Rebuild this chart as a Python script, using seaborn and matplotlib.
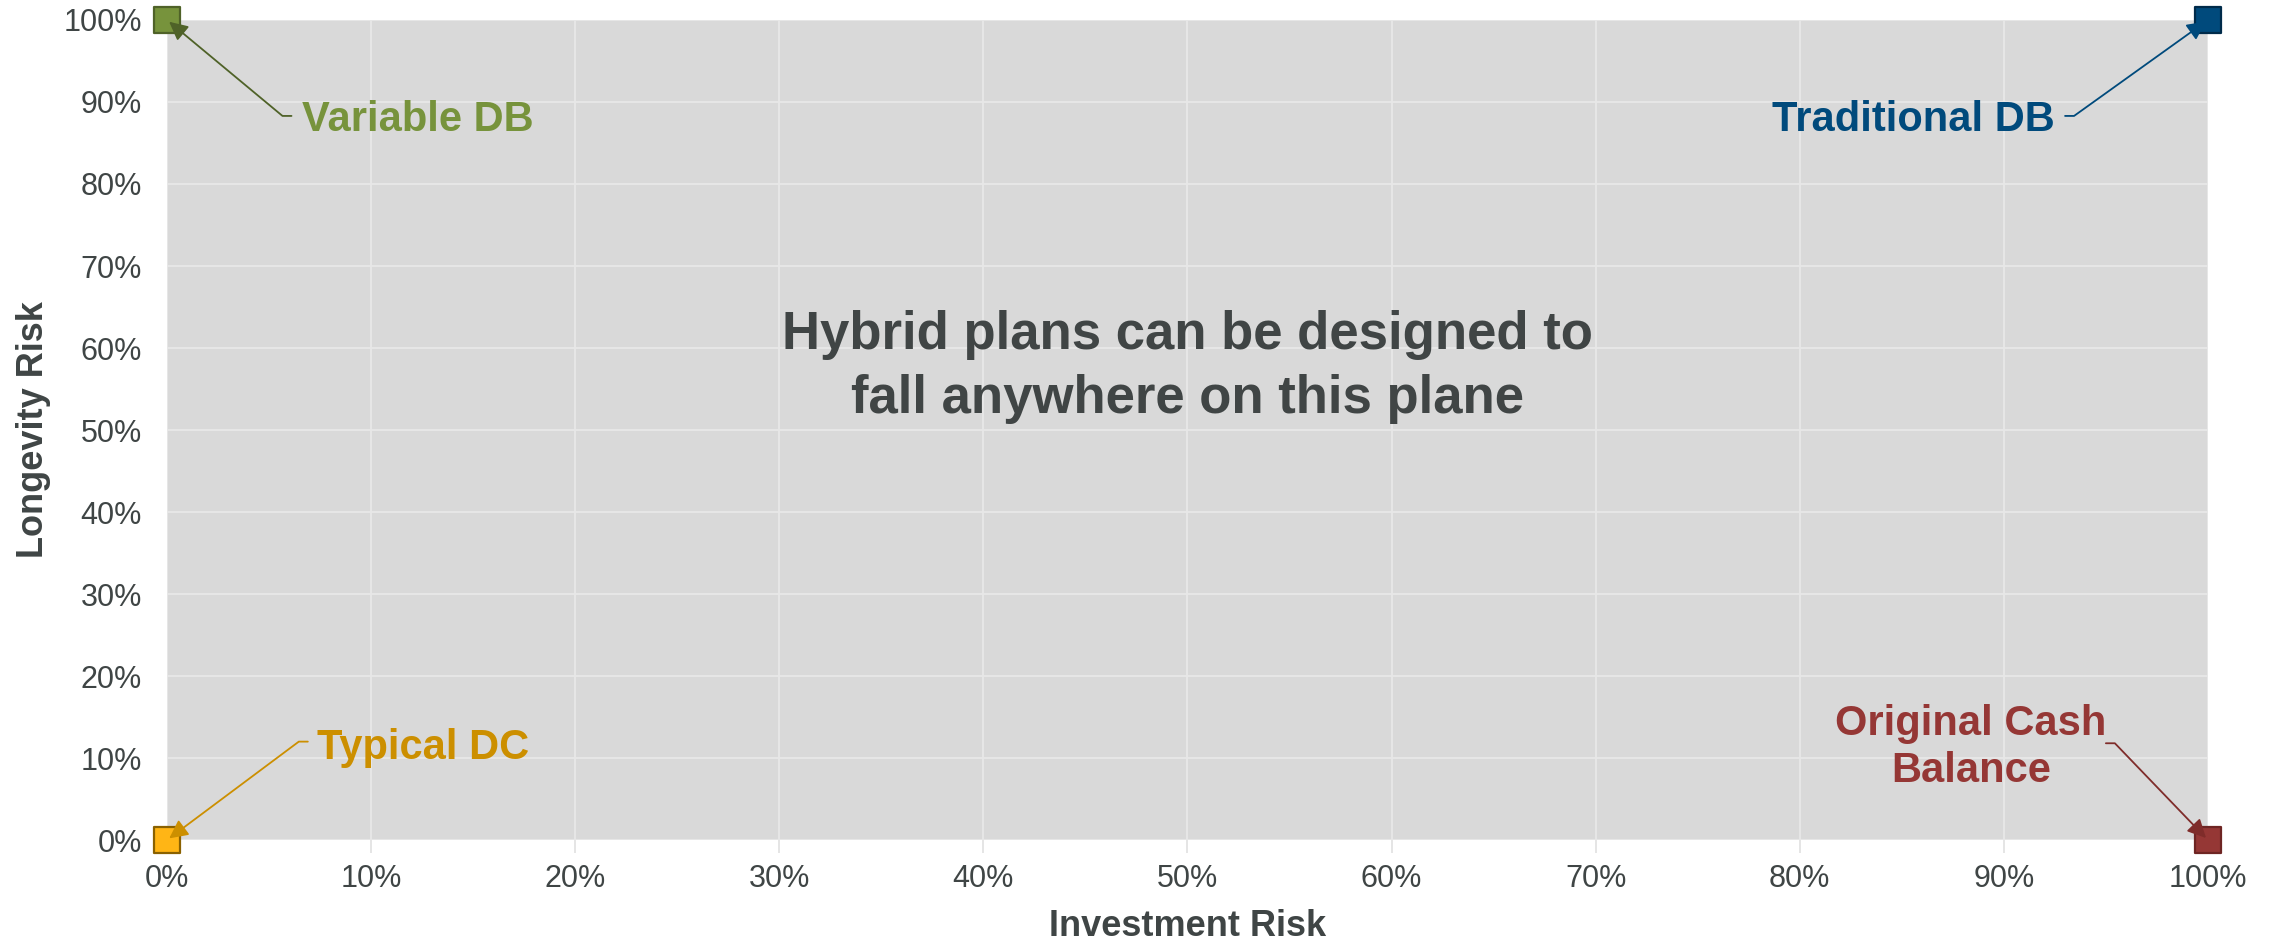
import matplotlib
matplotlib.use("Agg")
import matplotlib.pyplot as plt
from matplotlib.ticker import PercentFormatter, MultipleLocator
import seaborn as sns
import pandas as pd

# Plan types placed on the investment-risk / longevity-risk plane
plans = ["Variable DB", "Traditional DB", "Typical DC", "Original Cash Balance"]
investment_risk = [0.0, 1.0, 0.0, 1.0]
longevity_risk = [1.0, 1.0, 0.0, 0.0]
label_text = ["Variable DB", "Traditional DB", "Typical DC", "Original Cash\nBalance"]

fill_colors = ["#77933C", "#004A7C", "#FFB515", "#953735"]
edge_colors = ["#4F6228", "#002B4A", "#8A6100", "#6E2523"]
text_colors = ["#77933C", "#004A7C", "#CC8F00", "#953735"]
arrow_colors = ["#4F6228", "#004A7C", "#CC8F00", "#7F2C2A"]

# label anchor (data coords), alignment, connector start and its first arm direction
label_layout = {
    "Variable DB": dict(pos=(0.066, 0.878), ha="left", start=(0.061, 0.883), angle=180),
    "Traditional DB": dict(pos=(0.925, 0.878), ha="right", start=(0.930, 0.883), angle=0),
    "Typical DC": dict(pos=(0.0735, 0.112), ha="left", start=(0.069, 0.120), angle=180),
    "Original Cash Balance": dict(pos=(0.884, 0.113), ha="center", start=(0.950, 0.118), angle=0),
}

df = pd.DataFrame({"plan": plans, "investment": investment_risk, "longevity": longevity_risk})

sns.set_theme(style="darkgrid", rc={
    "axes.facecolor": "#D9D9D9",
    "grid.color": "#E8E8E8",
    "grid.linewidth": 1.3,
    "axes.edgecolor": "#D9D9D9",
})
plt.rcParams["font.family"] = ["Liberation Sans", "DejaVu Sans"]

fig = plt.figure(figsize=(22.72, 9.43), dpi=100)
ax = fig.add_axes([0.0735, 0.1092, 0.8983, 0.8696])

sns.scatterplot(data=df, x="investment", y="longevity", hue="plan", hue_order=plans,
                palette=dict(zip(plans, fill_colors)), marker="s", s=360,
                legend=False, ax=ax, clip_on=False, zorder=5, linewidth=0)
# marker outlines per plan
coll = ax.collections[0]
coll.set_edgecolors(edge_colors)
coll.set_linewidths(1.6)

for i, name in enumerate(plans):
    lay = label_layout[name]
    ax.text(lay["pos"][0], lay["pos"][1], label_text[i], ha=lay["ha"], va="center",
            fontsize=30, fontweight="bold", color=text_colors[i], linespacing=1.22,
            zorder=6)
    ax.annotate("", xy=(investment_risk[i], longevity_risk[i]), xytext=lay["start"],
                xycoords="data", textcoords="data", annotation_clip=False, zorder=7,
                arrowprops=dict(arrowstyle="-|>", color=arrow_colors[i], lw=1.3,
                                mutation_scale=28, shrinkA=0, shrinkB=2,
                                connectionstyle=f"arc,angleA={lay['angle']},angleB=0,armA=9,armB=0,rad=0"))

ax.text(0.5, 0.577, "Hybrid plans can be designed to\nfall anywhere on this plane",
        ha="center", va="center", fontsize=38, fontweight="bold", color="#404545",
        linespacing=1.36, transform=ax.transData)

ax.set_xlim(0, 1)
ax.set_ylim(0, 1)
ax.xaxis.set_major_locator(MultipleLocator(0.1))
ax.yaxis.set_major_locator(MultipleLocator(0.1))
ax.xaxis.set_major_formatter(PercentFormatter(1.0, decimals=0))
ax.yaxis.set_major_formatter(PercentFormatter(1.0, decimals=0))
ax.tick_params(axis="x", which="major", bottom=True, length=9, width=1.3, color="#E3E3E3",
               labelsize=22, labelcolor="#3F4545", pad=8)
ax.tick_params(axis="y", which="major", left=False, labelsize=22, labelcolor="#3F4545", pad=12)
for sp in ax.spines.values():
    sp.set_visible(False)

ax.set_xlabel("Investment Risk", fontsize=26, fontweight="bold", color="#3F4545", labelpad=11)
ax.set_ylabel("Longevity Risk", fontsize=26, fontweight="bold", color="#3F4545", labelpad=9)

fig.savefig("out.png", dpi=100, facecolor="white")
